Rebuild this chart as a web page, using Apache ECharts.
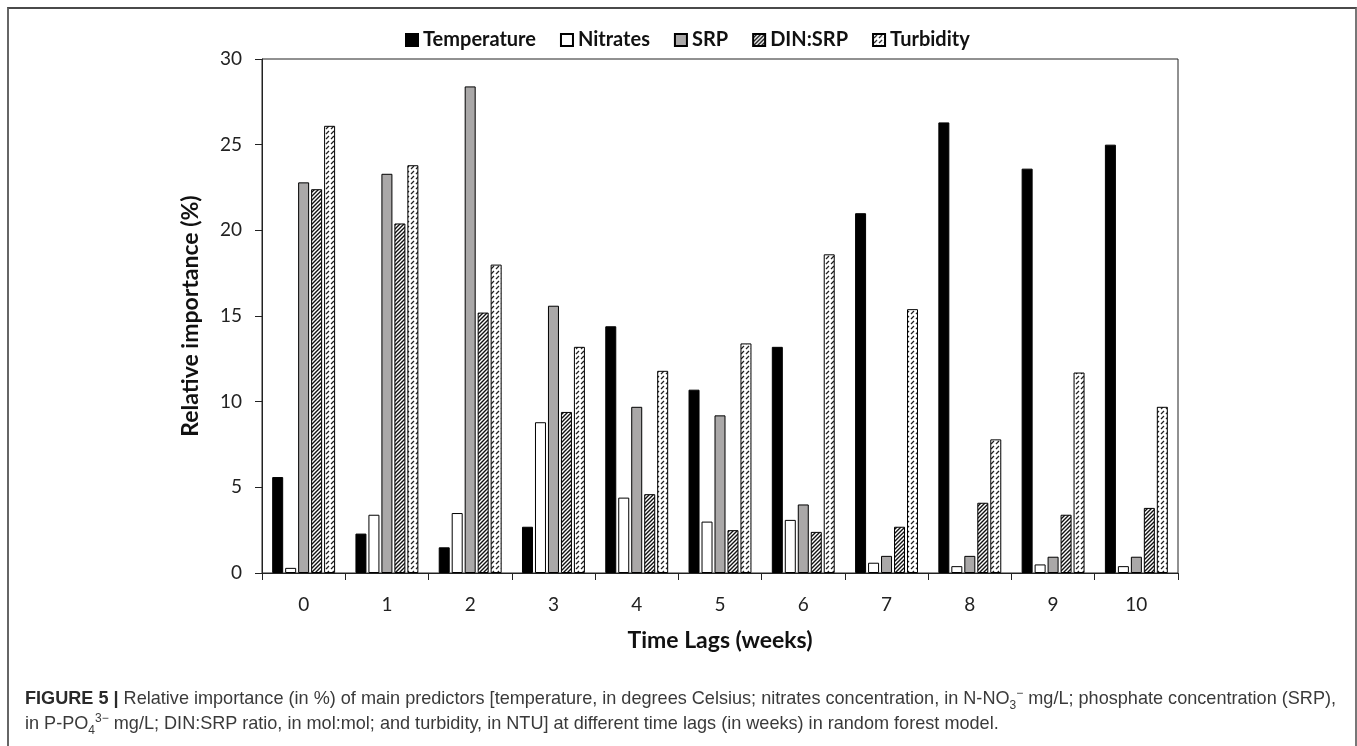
<!DOCTYPE html>
<html>
<head>
<meta charset="utf-8">
<script src="https://cdn.jsdelivr.net/npm/echarts@6/dist/echarts.min.js"></script>
<style>
  html, body { margin: 0; padding: 0; background: #fff; }
  #frame {
    position: absolute; left: 7px; top: 7px; width: 1346px; height: 760px;
    border-top: 2px solid #4a4a4a; border-left: 2px solid #666; border-right: 2px solid #777;
  }
  #chart { position: absolute; left: 0; top: 0; width: 1357px; height: 746px; }
  #caption {
    position: absolute; left: 25px; top: 686px; width: 1320px;
    font-family: "Liberation Sans", Arial, sans-serif; font-size: 18.1px; line-height: 25px;
    color: #3a3a3a; white-space: nowrap;
  }
  #caption b { color: #2a2a2a; }
  #caption sub, #caption sup { font-size: 12px; line-height: 0; }
</style>
</head>
<body>
<div id="frame"></div>
<div id="chart"></div>
<div id="caption"><b>FIGURE 5 |</b> Relative importance (in %) of main predictors [temperature, in degrees Celsius; nitrates concentration, in N-NO<sub>3</sub><sup>&minus;</sup> mg/L; phosphate concentration (SRP),<br>in P-PO<sub>4</sub><sup>3&minus;</sup> mg/L; DIN:SRP ratio, in mol:mol; and turbidity, in NTU] at different time lags (in weeks) in random forest model.</div>
<script>
var lags = ['0', '1', '2', '3', '4', '5', '6', '7', '8', '9', '10'];
var temperature = [5.6, 2.3, 1.5, 2.7, 14.4, 10.7, 13.2, 21.0, 26.3, 23.6, 25.0];
var nitrates = [0.3, 3.4, 3.5, 8.8, 4.4, 3.0, 3.1, 0.6, 0.4, 0.5, 0.4];
var srp = [22.8, 23.3, 28.4, 15.6, 9.7, 9.2, 4.0, 1.0, 1.0, 0.95, 0.95];
var dinSrp = [22.4, 20.4, 15.2, 9.4, 4.6, 2.5, 2.4, 2.7, 4.1, 3.4, 3.8];
var turbidity = [26.1, 23.8, 18.0, 13.2, 11.8, 13.4, 18.6, 15.4, 7.8, 11.7, 9.7];

// fill patterns for the hatched bars
function makePattern(size, draw) {
    var c = document.createElement('canvas');
    c.width = size; c.height = size;
    var ctx = c.getContext('2d');
    ctx.fillStyle = '#fff';
    ctx.fillRect(0, 0, size, size);
    ctx.strokeStyle = '#111';
    draw(ctx, size);
    return c;
}
var denseHatch = makePattern(4, function (ctx, s) {
    ctx.lineWidth = 1.4;
    ctx.beginPath();
    ctx.moveTo(-1, s + 1); ctx.lineTo(s + 1, -1);
    ctx.moveTo(-1, 1); ctx.lineTo(1, -1);
    ctx.moveTo(s - 1, s + 1); ctx.lineTo(s + 1, s - 1);
    ctx.stroke();
});
var dashHatch = makePattern(5, function (ctx, s) {
    ctx.lineWidth = 1.2;
    ctx.strokeStyle = '#222';
    ctx.beginPath();
    ctx.moveTo(1, 4); ctx.lineTo(4, 1);
    ctx.stroke();
});

var font = 'Lato, "Open Sans", sans-serif';

var myChart = echarts.init(document.getElementById('chart'));
myChart.setOption({
    animation: false,
    legend: {
        left: 400,
        top: 25,
        icon: 'rect',
        itemWidth: 12,
        itemHeight: 12,
        itemGap: 24,
        textStyle: { fontFamily: font, fontWeight: 'bold', fontSize: 20, color: '#111' },
        data: ['Temperature', 'Nitrates', 'SRP', 'DIN:SRP', 'Turbidity']
    },
    grid: {
        left: 262, right: 179, top: 59, bottom: 173,
        show: true, borderColor: '#222', borderWidth: 1
    },
    xAxis: {
        type: 'category',
        data: lags,
        name: 'Time Lags (weeks)',
        nameLocation: 'middle',
        nameGap: 56,
        nameTextStyle: { fontFamily: font, fontWeight: 'bold', fontSize: 23, color: '#111' },
        axisLine: { lineStyle: { color: '#222', width: 1 } },
        axisTick: { show: true, length: 7, lineStyle: { color: '#222' } },
        axisLabel: { fontFamily: font, fontSize: 19, color: '#222', margin: 22 }
    },
    yAxis: {
        type: 'value',
        min: 0, max: 30, interval: 5,
        name: 'Relative importance (%)',
        nameLocation: 'middle',
        nameGap: 60,
        nameTextStyle: { fontFamily: font, fontWeight: 'bold', fontSize: 23, color: '#111' },
        splitLine: { show: false },
        axisLine: { show: true, lineStyle: { color: '#222', width: 1 } },
        axisTick: { show: true, length: 7, lineStyle: { color: '#222' } },
        axisLabel: { fontFamily: font, fontSize: 19, color: '#222', margin: 20 }
    },
    series: [
        {
            name: 'Temperature', type: 'bar', barWidth: 11, barGap: '18%',
            itemStyle: { color: '#000', borderColor: '#000', borderWidth: 1 },
            data: temperature
        },
        {
            name: 'Nitrates', type: 'bar', barWidth: 11, barGap: '18%',
            itemStyle: { color: '#fff', borderColor: '#000', borderWidth: 1 },
            data: nitrates
        },
        {
            name: 'SRP', type: 'bar', barWidth: 11, barGap: '18%',
            itemStyle: { color: '#aaa8a8', borderColor: '#000', borderWidth: 1 },
            data: srp
        },
        {
            name: 'DIN:SRP', type: 'bar', barWidth: 11, barGap: '18%',
            itemStyle: { color: { image: denseHatch, repeat: 'repeat' }, borderColor: '#000', borderWidth: 1 },
            data: dinSrp
        },
        {
            name: 'Turbidity', type: 'bar', barWidth: 11, barGap: '18%',
            itemStyle: { color: { image: dashHatch, repeat: 'repeat' }, borderColor: '#000', borderWidth: 1 },
            data: turbidity
        }
    ]
});
</script>
</body>
</html>
